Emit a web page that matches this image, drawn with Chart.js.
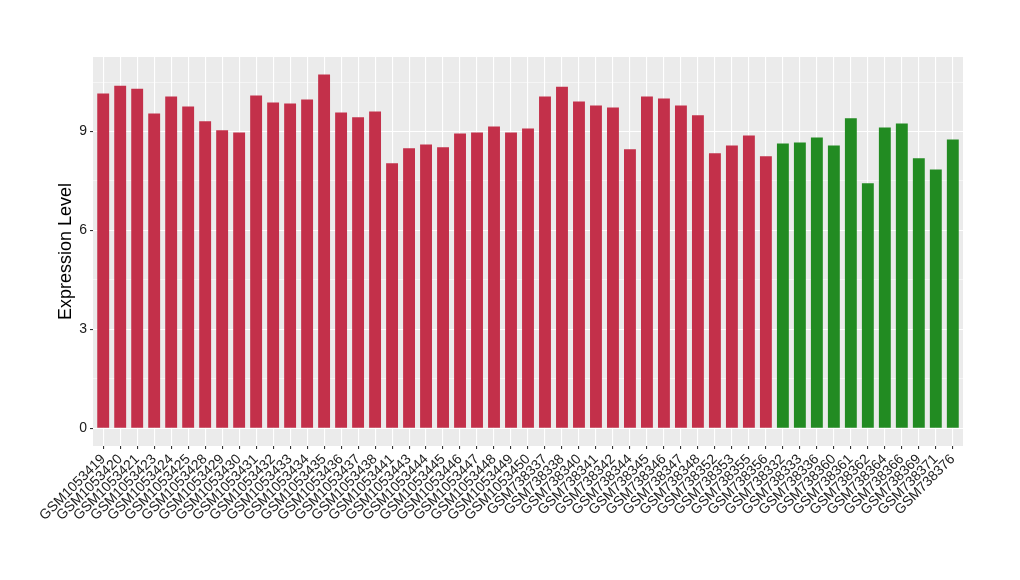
<!DOCTYPE html>
<html lang="en">
<head>
    <meta charset="UTF-8">
    <title>Expression Level</title>
    <script src="https://cdn.jsdelivr.net/npm/chart.js"></script>
    <style>
        body { margin: 0; background: #fff; }
    </style>
</head>
<body>
    <canvas id="chartCanvas" width="1020" height="580"></canvas>

    <script>
        // group 1 (red) samples
        const redSamples = [
            'GSM1053419', 'GSM1053420', 'GSM1053421', 'GSM1053423', 'GSM1053424', 'GSM1053425',
            'GSM1053428', 'GSM1053429', 'GSM1053430', 'GSM1053431', 'GSM1053432', 'GSM1053433',
            'GSM1053434', 'GSM1053435', 'GSM1053436', 'GSM1053437', 'GSM1053438', 'GSM1053441',
            'GSM1053443', 'GSM1053444', 'GSM1053445', 'GSM1053446', 'GSM1053447', 'GSM1053448',
            'GSM1053449', 'GSM1053450', 'GSM738337', 'GSM738338', 'GSM738340', 'GSM738341',
            'GSM738342', 'GSM738344', 'GSM738345', 'GSM738346', 'GSM738347', 'GSM738348',
            'GSM738352', 'GSM738353', 'GSM738355', 'GSM738356'
        ];
        const redValues = [
            10.15, 10.39, 10.30, 9.55, 10.06, 9.76,
            9.31, 9.04, 8.97, 10.09, 9.88, 9.85,
            9.97, 10.73, 9.58, 9.43, 9.61, 8.04,
            8.49, 8.61, 8.52, 8.94, 8.97, 9.15,
            8.97, 9.09, 10.06, 10.36, 9.91, 9.79,
            9.73, 8.46, 10.06, 10.00, 9.79, 9.49,
            8.34, 8.58, 8.88, 8.25
        ];

        // group 2 (green) samples
        const greenSamples = [
            'GSM738332', 'GSM738333', 'GSM738336', 'GSM738360', 'GSM738361', 'GSM738362',
            'GSM738364', 'GSM738366', 'GSM738369', 'GSM738371', 'GSM738376'
        ];
        const greenValues = [
            8.64, 8.67, 8.82, 8.58, 9.40, 7.43,
            9.12, 9.24, 8.19, 7.85, 8.76
        ];

        const yTicks = [0, 1.5, 3, 4.5, 6, 7.5, 9, 10.5];

        const labels = redSamples.concat(greenSamples);
        const values = redValues.concat(greenValues);
        const colors = redSamples.map(() => '#C3304A').concat(greenSamples.map(() => '#228B22'));

        // grey panel behind the plot
        const panelBg = {
            id: 'panelBg',
            beforeDraw(chart) {
                const { ctx, chartArea: a } = chart;
                ctx.save();
                ctx.fillStyle = '#EBEBEB';
                ctx.fillRect(a.left, a.top, a.right - a.left, a.bottom - a.top);
                ctx.restore();
            }
        };

        const isMajor = v => Math.abs(v / 3 - Math.round(v / 3)) < 1e-6;

        new Chart(document.getElementById('chartCanvas').getContext('2d'), {
            type: 'bar',
            data: {
                labels: labels,
                datasets: [{
                    data: values,
                    backgroundColor: colors,
                    borderWidth: 0,
                    barPercentage: 0.7,
                    categoryPercentage: 1.0
                }]
            },
            options: {
                responsive: false,
                animation: false,
                layout: { padding: { top: 57, right: 57, bottom: 0, left: 55 } },
                plugins: {
                    legend: { display: false },
                    tooltip: { enabled: false }
                },
                scales: {
                    x: {
                        afterFit: s => { s.height = 134; },
                        // ggplot-like 0.6 category expansion on each side
                        afterBuildTicks: s => {
                            s._startValue = s.min - 0.6;
                            s._valueRange = s.max - s.min + 1.2;
                        },
                        border: { display: false },
                        grid: {
                            offset: false,
                            color: '#FFFFFF',
                            lineWidth: 1.1,
                            tickColor: '#333333',
                            tickLength: 3
                        },
                        ticks: {
                            autoSkip: false,
                            minRotation: 45,
                            maxRotation: 45,
                            padding: 2,
                            color: '#1A1A1A',
                            font: { family: 'Liberation Sans', size: 14 }
                        }
                    },
                    y: {
                        min: -0.536,
                        max: 11.26,
                        afterFit: s => { s.width = 38; },
                        afterBuildTicks: s => { s.ticks = yTicks.map(v => ({ value: v })); },
                        border: { display: false },
                        grid: {
                            color: '#FFFFFF',
                            lineWidth: c => isMajor(c.tick.value) ? 1.1 : 0.5,
                            tickColor: c => isMajor(c.tick.value) ? '#333333' : 'rgba(0,0,0,0)',
                            tickLength: 3
                        },
                        ticks: {
                            padding: 3,
                            color: '#1A1A1A',
                            font: { family: 'Liberation Sans', size: 14 },
                            callback: v => isMajor(v) ? String(v) : ''
                        },
                        title: {
                            display: true,
                            text: 'Expression Level',
                            color: '#000000',
                            font: { family: 'Liberation Sans', size: 18 },
                            padding: { top: 0, bottom: 0 }
                        }
                    }
                }
            },
            plugins: [panelBg]
        });
    </script>
</body>
</html>
